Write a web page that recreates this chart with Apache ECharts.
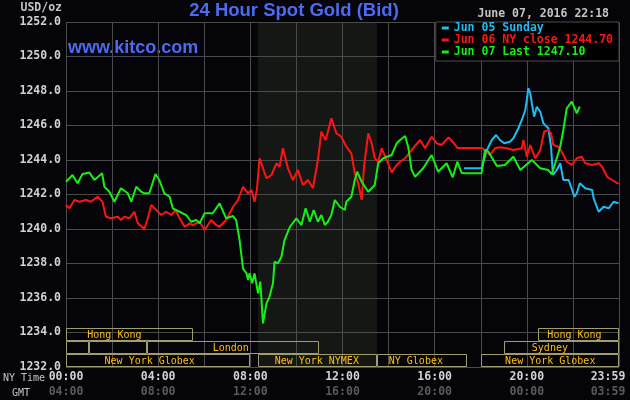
<!DOCTYPE html>
<html>
<head>
<meta charset="utf-8">
<script src="https://cdn.jsdelivr.net/npm/echarts@6/dist/echarts.min.js"></script>
<style>
html,body{margin:0;padding:0;background:#050408;}
#c{width:630px;height:400px;}
</style>
</head>
<body>
<div id="c"></div>
<script>
// ---- data (minutes after 00:00 NY time, price USD/oz) ----
const jun05 = [[1036,1243.52],[1082,1243.52],[1087,1243.9],[1096,1244.58],[1109,1245.16],[1120,1245.45],[1130,1245.16],[1141,1244.97],[1156,1245.06],[1165,1245.26],[1178,1245.84],[1187,1246.32],[1196,1246.9],[1200,1247.48],[1204,1248.16],[1209,1247.87],[1213,1247.29],[1219,1246.51],[1226,1247.09],[1235,1246.8],[1243,1246.13],[1256,1245.84],[1263,1244.77],[1268,1243.13],[1278,1243.42],[1287,1243.81],[1295,1242.84],[1309,1242.84],[1315,1242.45],[1324,1241.87],[1330,1242.07],[1338,1242.65],[1352,1242.36],[1370,1242.26],[1374,1241.78],[1387,1241.0],[1400,1241.29],[1413,1241.2],[1426,1241.58],[1439,1241.49]];

const jun06 = [[0,1241.39],[9,1241.2],[22,1241.68],[35,1241.58],[52,1241.68],[65,1241.58],[82,1241.87],[95,1241.58],[104,1240.71],[117,1240.62],[135,1240.71],[143,1240.52],[152,1240.71],[165,1240.62],[178,1241.0],[187,1240.33],[204,1240.0],[213,1240.62],[222,1241.39],[235,1241.1],[248,1240.81],[261,1241.0],[274,1240.81],[285,1241.1],[296,1240.62],[309,1240.13],[322,1240.33],[330,1240.23],[348,1240.42],[361,1239.94],[378,1240.52],[391,1240.23],[400,1240.13],[417,1240.52],[435,1241.29],[448,1241.68],[461,1242.45],[474,1242.07],[483,1242.26],[491,1241.58],[497,1242.26],[504,1244.1],[522,1242.94],[535,1243.13],[548,1243.81],[556,1243.61],[565,1244.68],[578,1243.52],[591,1242.84],[604,1243.42],[617,1242.55],[630,1242.84],[643,1242.36],[656,1244.0],[665,1245.64],[676,1245.16],[682,1245.64],[691,1246.42],[704,1245.55],[717,1245.35],[730,1244.77],[743,1244.39],[752,1243.23],[761,1242.65],[770,1241.68],[776,1243.61],[787,1245.55],[796,1244.97],[804,1244.1],[813,1243.9],[822,1244.68],[835,1244.0],[848,1243.28],[861,1243.71],[870,1243.9],[883,1244.1],[900,1244.58],[922,1245.16],[935,1244.68],[952,1245.35],[965,1244.97],[978,1244.87],[996,1245.31],[1010,1244.97],[1019,1244.7],[1083,1244.7],[1096,1244.48],[1104,1244.29],[1117,1244.68],[1130,1244.74],[1148,1244.68],[1165,1244.58],[1187,1244.68],[1191,1245.16],[1200,1244.19],[1209,1244.87],[1222,1244.1],[1235,1244.58],[1245,1245.64],[1256,1245.74],[1263,1245.55],[1269,1244.87],[1282,1244.77],[1291,1244.48],[1304,1243.9],[1317,1243.71],[1330,1244.1],[1343,1244.19],[1352,1243.81],[1370,1243.71],[1387,1243.81],[1396,1243.61],[1409,1243.03],[1422,1242.84],[1439,1242.61]];

const jun07 = [[0,1242.74],[17,1243.13],[30,1242.65],[43,1243.19],[61,1243.27],[74,1242.84],[94,1243.23],[100,1242.45],[113,1242.16],[126,1241.58],[143,1242.36],[161,1242.07],[170,1241.58],[183,1242.45],[196,1242.16],[204,1242.07],[217,1242.07],[233,1243.19],[243,1242.84],[256,1242.07],[270,1241.87],[278,1241.2],[296,1241.0],[313,1240.81],[326,1240.42],[339,1240.52],[348,1240.33],[361,1240.91],[382,1240.91],[400,1241.49],[417,1240.62],[435,1240.75],[443,1240.52],[452,1239.36],[461,1237.7],[470,1237.43],[474,1237.04],[478,1237.43],[485,1236.85],[491,1237.43],[500,1236.27],[506,1236.95],[513,1234.53],[522,1235.69],[530,1236.08],[539,1236.85],[543,1238.1],[552,1238.01],[561,1238.39],[569,1239.36],[583,1240.13],[600,1240.62],[613,1240.23],[624,1241.2],[635,1240.42],[645,1241.1],[656,1240.42],[665,1240.81],[674,1240.23],[682,1240.42],[691,1240.81],[700,1241.68],[713,1241.29],[726,1241.1],[730,1241.58],[743,1241.87],[752,1242.84],[758,1243.32],[770,1242.74],[787,1242.16],[804,1242.55],[813,1243.81],[826,1244.1],[848,1244.29],[861,1244.97],[870,1245.16],[883,1245.39],[891,1244.77],[900,1243.42],[909,1243.03],[930,1243.52],[952,1244.29],[969,1243.32],[991,1243.81],[1007,1243.0],[1019,1243.9],[1030,1243.26],[1036,1243.23],[1082,1243.23],[1091,1244.58],[1100,1244.48],[1122,1243.65],[1143,1243.71],[1165,1244.19],[1183,1243.42],[1213,1244.0],[1235,1243.52],[1256,1243.42],[1265,1243.17],[1274,1243.81],[1287,1244.77],[1295,1245.74],[1304,1247.0],[1317,1247.38],[1330,1246.71],[1338,1247.1]];

const seriesNames = ['Jun 05 Sunday', 'Jun 06 NY close', 'Jun 07 Last'];
const legendValues = ['', '1244.70', '1247.10'];

const nyTicks  = ['00:00','04:00','08:00','12:00','16:00','20:00','23:59'];
const gmtTicks = ['04:00','08:00','12:00','16:00','20:00','00:00','03:59'];
const yTicksMin = 1232, yTicksMax = 1252, yStep = 2;

// NYMEX pit session shading [start, end] minutes
const pitSession = [[500, 810]];

// market sessions: [start, end, label, label time]
const asiaRow   = [[0,330,'Hong Kong',126],[1230,1440,'Hong Kong',1324]];
const europeRow = [[0,60,'',30],[60,210,'',135],[210,660,'London',429],[1140,1440,'Sydney',1260]];
const usRow     = [[0,480,'New York Globex',218],[500,810,'New York NYMEX',653],[810,1045,'NY Globex',911],[1080,1440,'New York Globex',1261]];

const headerTitle = '24 Hour Spot Gold (Bid)';
const siteText = 'www.kitco.com';
const dateText = 'June 07, 2016 22:18';
const unitText = 'USD/oz';

// ---- styles ----
const MONO = "'DejaVu Sans Mono', monospace";
const COLORS = ['#1dbcf2', '#ff1414', '#14f014'];
const BLUE = '#4b6cf2';

const sessionRows = [];
[asiaRow, europeRow, usRow].forEach((rowData, row) => {
  rowData.forEach(d => sessionRows.push([d[0], d[1], row, d[2], d[3]]));
});

const chart = echarts.init(document.getElementById('c'), null, {renderer: 'canvas'});

const rowH = 13;
function renderSession(params, api) {
  const s = api.value(0), e = api.value(1), row = api.value(2);
  const item = sessionRows[params.dataIndex];
  const label = item[3], at = item[4];
  const p0 = api.coord([s, yTicksMin]);
  const p1 = api.coord([e, yTicksMin]);
  const bottom = Math.round(p0[1]);
  const top = bottom - (3 - row) * rowH;
  const x0 = Math.round(p0[0]) + 0.5, x1 = Math.round(p1[0]) - 0.5;
  const children = [{
    type: 'rect',
    shape: {x: x0, y: top + 0.5, width: x1 - x0, height: rowH - 1},
    style: {fill: 'none', stroke: '#a29d6c', lineWidth: 1}
  }];
  if (label) {
    const lp = api.coord([at, yTicksMin]);
    children.push({
      type: 'text',
      style: {x: lp[0], y: top + rowH / 2 + 0.5, text: label, fill: '#ffbf10',
        font: "10px 'DejaVu Sans Mono'", align: 'center', verticalAlign: 'middle'}
    });
  }
  return {type: 'group', children};
}

function renderShade(params, api) {
  const p0 = api.coord([api.value(0), yTicksMax]);
  const p1 = api.coord([api.value(1), yTicksMin]);
  return {type: 'rect', shape: {x: p0[0], y: p0[1], width: p1[0] - p0[0], height: p1[1] - p0[1]},
    style: {fill: '#151715'}};
}

const lineSeries = [jun05, jun06, jun07].map((d, i) => ({
  name: seriesNames[i],
  type: 'line',
  data: d,
  showSymbol: false,
  symbol: 'none',
  lineStyle: {width: 2, color: COLORS[i]},
  itemStyle: {color: COLORS[i]},
  z: 3 + i,
  animation: false
}));

chart.setOption({
  backgroundColor: '#050408',
  animation: false,
  grid: {left: 66, right: 11, top: 22, bottom: 33, containLabel: false, outerBoundsMode: 'none'},
  xAxis: {
    type: 'value', min: 0, max: 1440, interval: 120,
    axisLine: {show: false}, axisTick: {show: false},
    splitLine: {show: true, lineStyle: {color: '#4a4a4a', width: 1}},
    axisLabel: {
      interval: 0, margin: 3,
      formatter: v => {
        if (v % 240 !== 0) return '';
        const i = v / 240;
        if (i === nyTicks.length - 1) return '{c|' + nyTicks[i] + '}\n{d|' + gmtTicks[i] + '}';
        return '{a|' + nyTicks[i] + '}\n{b|' + gmtTicks[i] + '}';
      },
      rich: {
        a: {fontFamily: MONO, fontSize: 11.5, fontWeight: 'bold', color: '#d2d2d2', lineHeight: 15},
        b: {fontFamily: MONO, fontSize: 11.5, fontWeight: 'bold', color: '#5a5a5a', lineHeight: 15},
        c: {fontFamily: MONO, fontSize: 11.5, fontWeight: 'bold', color: '#d2d2d2', lineHeight: 15, padding: [0, 22, 0, 0]},
        d: {fontFamily: MONO, fontSize: 11.5, fontWeight: 'bold', color: '#5a5a5a', lineHeight: 15, padding: [0, 22, 0, 0]}
      }
    }
  },
  yAxis: {
    type: 'value', min: yTicksMin, max: yTicksMax, interval: yStep,
    axisLine: {show: false}, axisTick: {show: false},
    splitLine: {show: true, lineStyle: {color: '#4a4a4a', width: 1}},
    axisLabel: {
      margin: 5, color: '#d2d2d2', fontFamily: MONO, fontSize: 11.5, fontWeight: 'bold',
      formatter: v => v.toFixed(1)
    }
  },
  legend: {
    orient: 'vertical', right: 11, top: 22,
    backgroundColor: '#000000', borderColor: '#4d4d4d', borderWidth: 1,
    padding: [0, 6, 3, 6], itemGap: 0, itemWidth: 7, itemHeight: 3, icon: 'rect',
    selectedMode: false,
    textStyle: {fontFamily: MONO, fontSize: 11.5, lineHeight: 12, fontWeight: 'bold'},
    data: seriesNames.map((n, i) => ({name: n, textStyle: {color: COLORS[i]}})),
    formatter: n => {
      const i = seriesNames.indexOf(n);
      return legendValues[i] ? n + ' ' + legendValues[i] : n;
    }
  },
  graphic: [
    {type: 'text', x: 294, y: 11, style: {text: headerTitle, fill: BLUE,
      font: "bold 18.5px 'Liberation Sans', Arial, sans-serif", align: 'center', verticalAlign: 'middle'}},
    {type: 'text', x: 68, y: 48.5, style: {text: siteText, fill: BLUE,
      font: "bold 18px 'Liberation Sans', Arial, sans-serif", align: 'left', verticalAlign: 'middle'}},
    {type: 'text', x: 609, y: 14.5, style: {text: dateText, fill: '#c4c4c4',
      font: "bold 11.5px 'DejaVu Sans Mono'", align: 'right', verticalAlign: 'middle'}},
    {type: 'text', x: 20.5, y: 8, style: {text: unitText, fill: '#c4c4c4',
      font: "bold 11.5px 'DejaVu Sans Mono'", align: 'left', verticalAlign: 'middle'}},
    {type: 'text', x: 3, y: 378, style: {text: 'NY Time', fill: '#c4c4c4',
      font: "10px 'DejaVu Sans Mono'", align: 'left', verticalAlign: 'middle'}},
    {type: 'text', x: 12, y: 393, style: {text: 'GMT', fill: '#c4c4c4',
      font: "10px 'DejaVu Sans Mono'", align: 'left', verticalAlign: 'middle'}}
  ],
  series: [
    {type: 'custom', name: 'pit', data: pitSession, renderItem: renderShade, z: -10, silent: true,
      encode: {x: [0, 1]}},
    ...lineSeries,
    {type: 'custom', name: 'sessions', data: sessionRows.map(r => [r[0], r[1], r[2]]),
      renderItem: renderSession, z: 8, silent: true, encode: {x: [0, 1]}}
  ]
});
</script>
</body>
</html>
